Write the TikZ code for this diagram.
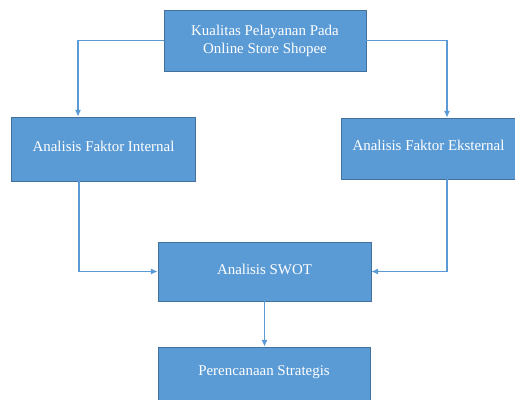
\documentclass[tikz,border=0pt]{standalone}
\usepackage{fontspec}
\setmainfont{Liberation Serif}
\usetikzlibrary{arrows.meta}
\definecolor{boxblue}{HTML}{5B9BD5}
\definecolor{boxline}{HTML}{41719C}
\newcommand{\lift}[2]{\raisebox{#1}{#2}}
\begin{document}
\begin{tikzpicture}[x=0.75pt,y=-0.75pt,
  box/.style={draw=boxline,fill=boxblue,text=white,line width=0.6pt,
    align=center,font=\fontsize{11.2}{13.5}\selectfont,inner sep=0pt},
  link/.style={draw=boxblue,line width=0.8pt,-{Latex[length=5pt,width=4.5pt]}}]
\useasboundingbox (0,0) rectangle (515,400);
\node[box,minimum width=202*0.75pt,minimum height=61*0.75pt] (k) at (265,40.5)
  {\lift{2.5pt}{\begin{tabular}{@{}c@{}}Kualitas Pelayanan Pada\\Online Store Shopee\end{tabular}}};
\node[box,minimum width=184*0.75pt,minimum height=64*0.75pt] (i) at (103.5,149)
  {\lift{4.5pt}{Analisis Faktor Internal}};
\node[box,minimum width=175*0.75pt,minimum height=61*0.75pt] (e) at (428.5,148.5)
  {\lift{4.5pt}{Analisis Faktor Eksternal}};
\node[box,minimum width=213*0.75pt,minimum height=59*0.75pt] (s) at (264.5,271.5)
  {\lift{3.5pt}{Analisis SWOT}};
\node[box,minimum width=212*0.75pt,minimum height=57*0.75pt] (p) at (264,375.5)
  {\lift{7.5pt}{Perencanaan Strategis}};

\path[link] (k.west) -| (78,0 |- i.north);
\path[link] (k.east) -| (447,0 |- e.north);
\path[link] (79,0 |- i.south) |- (s.west);
\path[link] (447,0 |- e.south) |- (s.east);
\path[link] (s.south) -- (s.south |- p.north);
\end{tikzpicture}
\end{document}
